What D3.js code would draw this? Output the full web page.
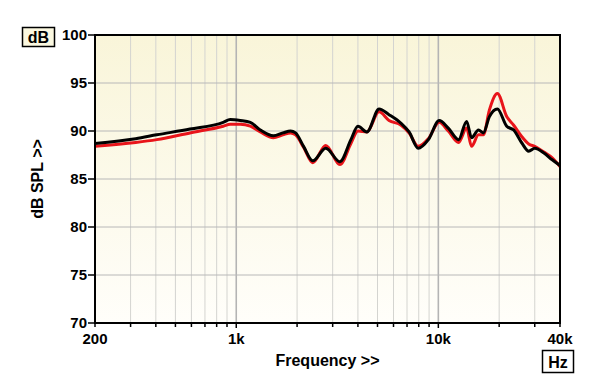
<!DOCTYPE html>
<html>
<head>
<meta charset="utf-8">
<script src="https://cdn.jsdelivr.net/npm/d3@7"></script>
<style>
  body { margin: 0; background: #fff; }
  text { font-family: "Liberation Sans", Arial, sans-serif; font-weight: bold; fill: #000; }
</style>
</head>
<body>
<div id="chart"></div>
<script>
// frequency points (Hz)
var freqs = [200, 318, 404, 590, 862, 934, 1047, 1174, 1316, 1527, 1700, 1856, 1966, 2153, 2390,
  2774, 3257, 3693, 4000, 4430, 5090, 5700, 6540, 7170, 7950, 8930, 10100, 11200, 12600, 13800,
  14600, 15800, 16700, 17900, 19600, 21800, 23600, 25900, 28000, 30000, 33300, 36600, 40000];

// black trace, dB SPL
var blackDb = [88.7, 89.2, 89.6, 90.2, 90.9, 91.2, 91.1, 90.9, 90.1, 89.5, 89.8, 90.0, 89.8, 88.4, 86.9,
  88.2, 86.8, 89.1, 90.5, 89.9, 92.3, 91.7, 90.8, 89.9, 88.2, 89.1, 91.1, 90.3, 89.1, 91.0,
  89.3, 90.1, 89.8, 91.5, 92.3, 90.5, 90.1, 88.75, 87.9, 88.2, 87.7, 87.0, 86.4];

// red trace, dB SPL
var redDb = [88.4, 88.8, 89.1, 89.8, 90.5, 90.7, 90.7, 90.5, 89.9, 89.3, 89.6, 89.8, 89.6, 88.3, 86.7,
  88.5, 86.5, 88.7, 90.0, 89.9, 92.0, 91.1, 90.6, 89.8, 88.4, 89.2, 90.9, 90.0, 88.8, 90.3,
  88.4, 89.6, 89.6, 92.2, 93.9, 91.5, 90.6, 89.4, 88.65, 88.4, 87.8, 87.2, 86.3];

var yTicks = [70, 75, 80, 85, 90, 95, 100];
var xLabels = [[200, "200"], [1000, "1k"], [10000, "10k"], [40000, "40k"]];
var majorGrid = [1000, 10000];
var minorGrid = [300, 400, 500, 600, 700, 800, 900, 2000, 3000, 4000, 5000, 6000, 7000, 8000, 9000, 20000, 30000];

var width = 600, height = 389;
var mLeft = 95, mRight = 560, mTop = 35, mBottom = 323;

var svg = d3.select("#chart").append("svg")
  .attr("width", width)
  .attr("height", height);

var x = d3.scaleLog().domain([200, 40000]).range([mLeft, mRight]);
var y = d3.scaleLinear().domain([70, 100]).range([mBottom, mTop]);

var grad = svg.append("defs").append("linearGradient")
  .attr("id", "bg").attr("x1", 0).attr("y1", 0).attr("x2", 0).attr("y2", 1);
grad.append("stop").attr("offset", "0%").attr("stop-color", "#f9f5d9");
grad.append("stop").attr("offset", "100%").attr("stop-color", "#fffefa");

svg.append("rect")
  .attr("x", mLeft).attr("y", mTop)
  .attr("width", mRight - mLeft).attr("height", mBottom - mTop)
  .attr("fill", "url(#bg)");

// grid
svg.selectAll(".vminor").data(minorGrid).enter().append("line")
  .attr("x1", d => x(d)).attr("x2", d => x(d))
  .attr("y1", mTop).attr("y2", mBottom)
  .attr("stroke", "#d4d4d0").attr("stroke-width", 1);

svg.selectAll(".vmajor").data(majorGrid).enter().append("line")
  .attr("x1", d => x(d)).attr("x2", d => x(d))
  .attr("y1", mTop).attr("y2", mBottom)
  .attr("stroke", "#b4b4b4").attr("stroke-width", 1.6);

svg.selectAll(".hgrid").data(yTicks).enter().append("line")
  .attr("x1", mLeft).attr("x2", mRight)
  .attr("y1", d => y(d)).attr("y2", d => y(d))
  .attr("stroke", "#b8b8b8").attr("stroke-width", 1);

// traces
function trace(vals) {
  return d3.line()
    .x((d, i) => x(freqs[i]))
    .y(d => y(d))
    .curve(d3.curveMonotoneX)(vals);
}

svg.append("path").attr("d", trace(redDb))
  .attr("fill", "none").attr("stroke", "#e8141a").attr("stroke-width", 3)
  .attr("stroke-linejoin", "round");

svg.append("path").attr("d", trace(blackDb))
  .attr("fill", "none").attr("stroke", "#000").attr("stroke-width", 3)
  .attr("stroke-linejoin", "round");

// frame
svg.append("rect")
  .attr("x", mLeft).attr("y", mTop)
  .attr("width", mRight - mLeft).attr("height", mBottom - mTop)
  .attr("fill", "none").attr("stroke", "#000").attr("stroke-width", 2);

// y axis ticks + labels
svg.selectAll(".ytick").data(yTicks).enter().append("line")
  .attr("x1", mLeft - 7).attr("x2", mLeft)
  .attr("y1", d => y(d)).attr("y2", d => y(d))
  .attr("stroke", "#000").attr("stroke-width", 1.5);

svg.selectAll(".ylab").data(yTicks).enter().append("text")
  .attr("x", mLeft - 8).attr("y", d => y(d))
  .attr("dy", "0.36em")
  .attr("text-anchor", "end")
  .style("font-size", "15px")
  .text(d => d);

// x axis ticks
svg.selectAll(".xtick").data(minorGrid.concat(majorGrid, [200, 40000])).enter().append("line")
  .attr("x1", d => x(d)).attr("x2", d => x(d))
  .attr("y1", mBottom).attr("y2", d => (d == 1000 || d == 10000) ? mBottom + 5 : mBottom + 4)
  .attr("stroke", "#000").attr("stroke-width", 1.5);

svg.selectAll(".xlab").data(xLabels).enter().append("text")
  .attr("x", d => x(d[0])).attr("y", 344)
  .attr("text-anchor", "middle")
  .style("font-size", "15px")
  .text(d => d[1]);

svg.append("text")
  .attr("x", (mLeft + mRight) / 2).attr("y", 366)
  .attr("text-anchor", "middle")
  .style("font-size", "16px")
  .text("Frequency >>");

svg.append("text")
  .attr("transform", "translate(43," + ((mTop + mBottom) / 2) + ") rotate(-90)")
  .attr("text-anchor", "middle")
  .style("font-size", "16px")
  .text("dB SPL >>");

// unit boxes
svg.append("rect").attr("x", 22.5).attr("y", 27.5).attr("width", 32).attr("height", 19)
  .attr("fill", "#fbf8e0").attr("stroke", "#000").attr("stroke-width", 1.5);
svg.append("text").attr("x", 38.5).attr("y", 43).attr("text-anchor", "middle")
  .style("font-size", "16px").text("dB");

svg.append("rect").attr("x", 542.5).attr("y", 350.5).attr("width", 31).attr("height", 22)
  .attr("fill", "#fff").attr("stroke", "#000").attr("stroke-width", 1.5);
svg.append("text").attr("x", 558).attr("y", 367.5).attr("text-anchor", "middle")
  .style("font-size", "16px").text("Hz");
</script>
</body>
</html>
